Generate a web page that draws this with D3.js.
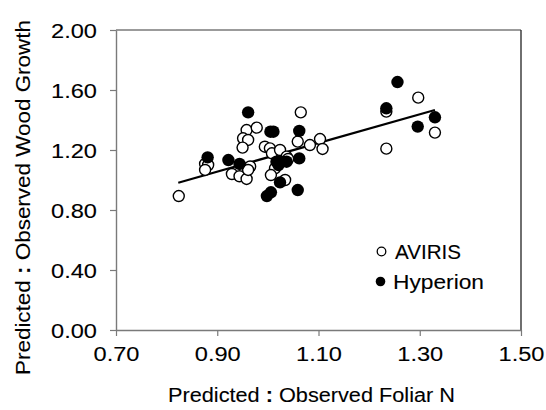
<!DOCTYPE html>
<html>
<head>
<meta charset="utf-8">
<script src="https://cdn.jsdelivr.net/npm/d3@7"></script>
<style>
  html, body { margin: 0; padding: 0; background: #fff; }
  svg { display: block; font-family: "Liberation Sans", Arial, sans-serif; }
  svg text { stroke: #000; stroke-width: 0.1px; }
</style>
</head>
<body>
<svg id="chart" width="546" height="410"></svg>
<script>
// Predicted : observed ratios per plot, by sensor
const avirisX = [0.824, 0.876, 0.882, 0.876, 0.929, 0.944, 0.958, 0.965, 0.961, 0.958,
                 0.978, 0.951, 0.961, 0.950, 0.994, 1.004, 1.008, 1.024, 1.037, 1.014,
                 1.006, 1.034, 1.065, 1.059, 1.083, 1.103, 1.108, 1.234, 1.297, 1.330,
                 1.234, 1.040];
const avirisY = [0.893, 1.107, 1.100, 1.067, 1.040, 1.025, 1.007, 1.090, 1.067, 1.333,
                 1.349, 1.278, 1.267, 1.216, 1.222, 1.211, 1.178, 1.200, 1.156, 1.078,
                 1.033, 1.000, 1.451, 1.256, 1.233, 1.273, 1.207, 1.456, 1.549, 1.316,
                 1.209, 1.140];
const hyperionX = [0.881, 0.922, 0.944, 0.961, 1.005, 1.011, 1.062, 1.017, 1.027, 1.037,
                   1.021, 1.062, 1.024, 0.998, 1.006, 1.059, 1.256, 1.234, 1.330, 1.296];
const hyperionY = [1.151, 1.133, 1.107, 1.451, 1.322, 1.322, 1.327, 1.122, 1.122, 1.122,
                   1.100, 1.144, 0.984, 0.893, 0.918, 0.933, 1.653, 1.478, 1.418, 1.356];

// Fitted line endpoints
const fitX = [0.823, 1.330];
const fitY = [0.982, 1.467];

const xTicks = [0.70, 0.90, 1.10, 1.30, 1.50];
const yTicks = [0.00, 0.40, 0.80, 1.20, 1.60, 2.00];
const seriesNames = ["AVIRIS", "Hyperion"];

const svg = d3.select("#chart");
const plotLeft = 116, plotRight = 521, plotTop = 30, plotBottom = 330;

const x = d3.scaleLinear().domain([0.70, 1.50]).range([plotLeft, plotRight]);
const y = d3.scaleLinear().domain([0, 2.00]).range([plotBottom, plotTop]);

const axisColor = "#7a7a7a";

// Frame: top and right edges
svg.append("line").attr("x1", plotLeft).attr("x2", plotRight).attr("y1", plotTop).attr("y2", plotTop)
  .attr("stroke", axisColor).attr("stroke-width", 1.6);
svg.append("line").attr("x1", plotRight).attr("x2", plotRight).attr("y1", plotTop).attr("y2", plotBottom)
  .attr("stroke", "#333").attr("stroke-width", 1.4);

// Axes
const xAxis = d3.axisBottom(x).tickValues(xTicks).tickFormat(d3.format(".2f"))
  .tickSize(6).tickSizeOuter(0).tickPadding(5);
const yAxis = d3.axisLeft(y).tickValues(yTicks).tickFormat(d3.format(".2f"))
  .tickSize(6).tickSizeOuter(0).tickPadding(13);

const gx = svg.append("g").attr("transform", `translate(0,${plotBottom})`).call(xAxis);
const gy = svg.append("g").attr("transform", `translate(${plotLeft},0)`).call(yAxis);
[gx, gy].forEach(g => {
  g.select(".domain").attr("stroke", axisColor).attr("stroke-width", 1.4);
  g.selectAll(".tick line").attr("stroke", axisColor).attr("stroke-width", 1.2);
  g.selectAll(".tick text").attr("fill", "#000").style("font-size", "20.5px")
    .style("font-family", "'Liberation Sans', Arial, sans-serif")
    .attr("textLength", 46).attr("lengthAdjust", "spacingAndGlyphs");
});
gx.selectAll(".tick text").attr("y", 30.5).attr("dy", 0);
gy.selectAll(".tick text").attr("dy", "0.36em");

// Fitted line
svg.append("line")
  .attr("x1", x(fitX[0])).attr("y1", y(fitY[0]))
  .attr("x2", x(fitX[1])).attr("y2", y(fitY[1]))
  .attr("stroke", "#000").attr("stroke-width", 2.2);

// Points
const aviris = avirisX.map((v, i) => ({ x: v, y: avirisY[i] }));
const hyperion = hyperionX.map((v, i) => ({ x: v, y: hyperionY[i] }));

svg.append("g").selectAll("circle").data(aviris).join("circle")
  .attr("cx", d => x(d.x)).attr("cy", d => y(d.y)).attr("r", 5.5)
  .attr("fill", "#fff").attr("stroke", "#000").attr("stroke-width", 1.4);

svg.append("g").selectAll("circle").data(hyperion).join("circle")
  .attr("cx", d => x(d.x)).attr("cy", d => y(d.y)).attr("r", 6.2)
  .attr("fill", "#000");

// Legend
const legend = svg.append("g");
legend.append("circle").attr("cx", 381.5).attr("cy", 251.5).attr("r", 4.3)
  .attr("fill", "#fff").attr("stroke", "#000").attr("stroke-width", 1.3);
legend.append("circle").attr("cx", 380.5).attr("cy", 281.5).attr("r", 4.8)
  .attr("fill", "#000");
legend.append("text").attr("x", 395).attr("y", 259).text(seriesNames[0])
  .style("font-size", "20.5px").attr("textLength", 66).attr("lengthAdjust", "spacingAndGlyphs");
legend.append("text").attr("x", 393).attr("y", 289).text(seriesNames[1])
  .style("font-size", "20.5px").attr("textLength", 91).attr("lengthAdjust", "spacingAndGlyphs");

// Axis titles
const xt = svg.append("text").attr("x", 168).attr("y", 402)
  .style("font-size", "20px").attr("textLength", 287).attr("lengthAdjust", "spacingAndGlyphs");
xt.append("tspan").text("Predicted ");
xt.append("tspan").text(":").style("font-weight", "bold");
xt.append("tspan").text(" Observed Foliar N");

const yt = svg.append("text")
  .attr("transform", "translate(30,375) rotate(-90)")
  .style("font-size", "20.5px").attr("textLength", 355).attr("lengthAdjust", "spacingAndGlyphs");
yt.append("tspan").text("Predicted ");
yt.append("tspan").text(":").style("font-weight", "bold");
yt.append("tspan").text(" Observed Wood Growth");
</script>
</body>
</html>
